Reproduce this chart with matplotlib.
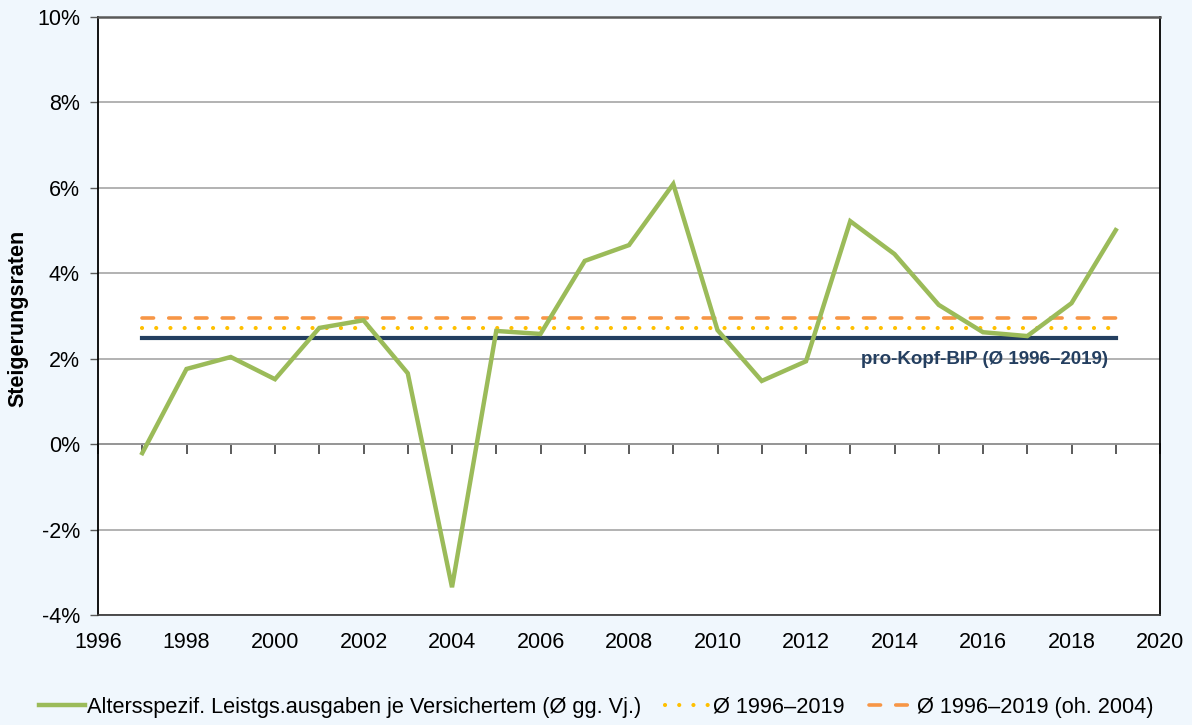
import matplotlib
matplotlib.use("Agg")
import matplotlib.pyplot as plt
from matplotlib.ticker import MultipleLocator, FuncFormatter

plt.rcParams['font.family'] = ['Liberation Sans', 'DejaVu Sans']

years = list(range(1997, 2020))
growth = [-0.21, 1.76, 2.04, 1.52, 2.72, 2.90, 1.66, -3.35, 2.65, 2.58, 4.29, 4.66,
          6.09, 2.67, 1.48, 1.94, 5.22, 4.45, 3.26, 2.62, 2.53, 3.30, 5.01]
avg_all = 2.71
avg_ex2004 = 2.96
gdp_pc = 2.49

label_green = "Altersspezif. Leistgs.ausgaben je Versichertem (Ø gg. Vj.)"
label_dot = "Ø 1996–2019"
label_dash = "Ø 1996–2019 (oh. 2004)"
label_gdp = "pro-Kopf-BIP (Ø 1996–2019)"
ylabel = "Steigerungsraten"

bg = '#f0f7fd'
green = '#9bbb59'
navy = '#243f60'
yellow = '#ffc000'
orange = '#f79646'

fig = plt.figure(figsize=(11.92, 7.25), dpi=100, facecolor=bg)
ax = fig.add_axes([98/1192, 1-615/725, (1160-98)/1192, (615-17)/725])
ax.set_facecolor('white')

ax.set_xlim(1996, 2020)
ax.set_ylim(-4, 10)
ax.yaxis.set_major_locator(MultipleLocator(2))
ax.xaxis.set_major_locator(MultipleLocator(2))
ax.yaxis.set_major_formatter(FuncFormatter(lambda v, p: f"{v:.0f}%"))
ax.xaxis.set_major_formatter(FuncFormatter(lambda v, p: f"{v:.0f}"))
ax.grid(axis='y', color='#a6a6a6', lw=1.2, zorder=0)
ax.set_axisbelow(True)

for s in ['left', 'right']:
    ax.spines[s].set_color('black')
    ax.spines[s].set_linewidth(1.3)
ax.spines['top'].set_color('#595959')
ax.spines['top'].set_linewidth(1.8)
ax.spines['bottom'].set_color('#404040')
ax.spines['bottom'].set_linewidth(1.3)

ax.tick_params(axis='x', length=0, pad=12, labelsize=15.5)
ax.tick_params(axis='y', length=6, width=1, color='#595959', direction='out', pad=7, labelsize=15.5)

# zero axis with yearly ticks
sec = ax.secondary_xaxis((0 - (-4)) / 14)
sec.xaxis.set_major_locator(MultipleLocator(1))
sec.tick_params(axis='x', direction='out', length=7, width=1.2, color='#404040', labelbottom=False)
sec.spines['bottom'].set_color('#404040')
sec.spines['bottom'].set_linewidth(1.3)

x0, x1 = years[0], years[-1]
ax.plot([x0, x1], [avg_ex2004, avg_ex2004], color=orange, lw=2.6,
        linestyle=(0, (3.2, 4.2)), dash_capstyle='round', zorder=3, label=label_dash)
ax.plot([x0, x1], [avg_all, avg_all], color=yellow, lw=3,
        linestyle=(0, (0.01, 3.4)), dash_capstyle='round', zorder=3, label=label_dot)
ax.plot([x0, x1], [gdp_pc, gdp_pc], color=navy, lw=3, zorder=3)
ax.plot(years, growth, color=green, lw=3.2, zorder=4, label=label_green,
        solid_joinstyle='miter')

ax.text(2018.82, 1.97, label_gdp, color=navy, fontsize=13.5, fontweight='bold',
        ha='right', va='center', zorder=5)

fig.text(18/1192, 1-318/725, ylabel, rotation=90, ha='center', va='center',
         fontsize=15.5, fontweight='bold')

h, l = ax.get_legend_handles_labels()
order = [2, 1, 0]
leg = fig.legend([h[i] for i in order], [l[i] for i in order], loc='center',
                 bbox_to_anchor=(0.5, 1-707/725), ncol=3, frameon=False,
                 fontsize=15.7, handlelength=2.1, handletextpad=0.1, columnspacing=1.1)

fig.savefig('out.png', dpi=100, facecolor=bg)
